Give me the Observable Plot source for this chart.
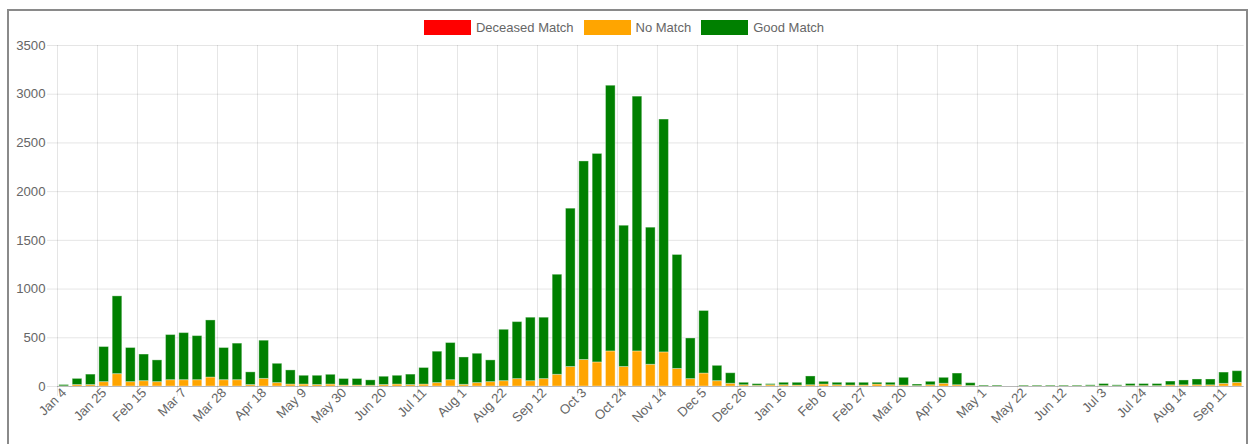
<!DOCTYPE html>
<html>
<head>
<meta charset="utf-8">
<script src="https://cdn.jsdelivr.net/npm/d3@7"></script>
<script src="https://cdn.jsdelivr.net/npm/@observablehq/plot@0.6"></script>
<style>
  html, body { margin: 0; padding: 0; background: #fff; overflow: hidden; }
  body { width: 1249px; height: 444px; position: relative; font-family: "Liberation Sans", Arial, Helvetica, sans-serif; }
  #card { position: absolute; left: 7px; top: 9px; width: 1237px; height: 480px; border: 2px solid #8a8a8a; background: #fff; }
  #legend { height: 23px; padding-top: 5px; padding-right: 7px; display: flex; justify-content: center; align-items: center; font-size: 13px; color: #666; }
  .item { display: flex; align-items: center; margin: 0 5px; }
  .box { width: 47px; height: 15px; margin-right: 5px; box-sizing: border-box; }
  #chart svg { display: block; }
</style>
</head>
<body>
<div id="card">
  <div id="legend"></div>
  <div id="chart"></div>
</div>
<script>
// Weekly categories (x axis)
const dates = [
  "Jan 4","Jan 11","Jan 18","Jan 25","Feb 1","Feb 8","Feb 15","Feb 22","Feb 29","Mar 7",
  "Mar 14","Mar 21","Mar 28","Apr 4","Apr 11","Apr 18","Apr 25","May 2","May 9","May 16",
  "May 23","May 30","Jun 6","Jun 13","Jun 20","Jun 27","Jul 4","Jul 11","Jul 18","Jul 25",
  "Aug 1","Aug 8","Aug 15","Aug 22","Aug 29","Sep 5","Sep 12","Sep 19","Sep 26","Oct 3",
  "Oct 10","Oct 17","Oct 24","Oct 31","Nov 7","Nov 14","Nov 21","Nov 28","Dec 5","Dec 12",
  "Dec 19","Dec 26","Jan 2","Jan 9","Jan 16","Jan 23","Jan 30","Feb 6","Feb 13","Feb 20",
  "Feb 27","Mar 6","Mar 13","Mar 20","Mar 27","Apr 3","Apr 10","Apr 17","Apr 24","May 1",
  "May 8","May 15","May 22","May 29","Jun 5","Jun 12","Jun 19","Jun 26","Jul 3","Jul 10",
  "Jul 17","Jul 24","Jul 31","Aug 7","Aug 14","Aug 21","Aug 28","Sep 11","Sep 18"
];
// Tick labels shown on the x axis
const tickDates = [
  "Jan 4","Jan 25","Feb 15","Mar 7","Mar 28","Apr 18","May 9","May 30","Jun 20","Jul 11",
  "Aug 1","Aug 22","Sep 12","Oct 3","Oct 24","Nov 14","Dec 5","Dec 26","Jan 16","Feb 6",
  "Feb 27","Mar 20","Apr 10","May 1","May 22","Jun 12","Jul 3","Jul 24","Aug 14","Sep 11"
];
// Series values (stacked bottom to top)
const deceasedMatch = [
  0,0,0,0,0,0,0,0,0,0, 0,0,0,0,0,0,0,0,0,0, 0,0,0,0,0,0,0,0,0,0,
  0,0,0,0,0,0,0,0,0,0, 0,0,0,0,0,0,0,0,0,0, 0,0,0,0,0,0,0,0,0,0,
  0,0,0,0,0,0,0,0,0,0, 0,0,0,0,0,0,0,0,0,0, 0,0,0,0,0,0,0,0,0
];
const noMatch = [
  2,15,15,45,127,45,55,45,65,65, 65,92,65,65,15,78,35,20,20,15,
  20,10,10,8,15,20,15,20,35,65, 17,35,45,55,76,55,76,120,200,272,
  247,360,200,360,223,350,180,76,133,55, 28,13,7,13,13,10,13,20,13,10,
  10,20,13,10,4,13,28,13,5,2, 2,0,2,2,2,2,2,2,4,2,
  4,4,4,12,12,12,12,27,37
];
const goodMatch = [
  13,63,107,360,798,350,273,223,463,483, 452,586,330,375,130,392,198,145,90,95,
  100,67,67,55,85,90,107,170,322,381, 281,301,223,527,585,651,630,1027,1625,2038,
  2140,2727,1450,2615,1407,2390,1170,417,642,157, 108,25,17,11,25,28,90,28,25,28,
  28,18,25,79,16,35,61,120,29,8, 8,0,7,7,7,7,7,10,21,10,
  21,21,21,39,50,60,60,116,120
];
const seriesNames = ["Deceased Match", "No Match", "Good Match"];
const seriesColors = ["red", "orange", "green"];
const yTicks = [0, 500, 1000, 1500, 2000, 2500, 3000, 3500];

// Legend (HTML, above the SVG)
const legend = document.getElementById("legend");
seriesNames.forEach((name, k) => {
  const it = document.createElement("div");
  it.className = "item";
  const b = document.createElement("span");
  b.className = "box";
  b.style.background = seriesColors[k];
  const t = document.createElement("span");
  t.textContent = name;
  it.appendChild(b); it.appendChild(t);
  legend.appendChild(it);
});

// Long table for stacking
const seriesArrays = [deceasedMatch, noMatch, goodMatch];
const rows = [];
dates.forEach((d, i) => {
  seriesNames.forEach((s, k) => rows.push({date: d, series: s, value: seriesArrays[k][i]}));
});

const W = 1237, H = 400, mL = 48, mR = 2.4, mT = 6, mB = 53;
const step = (W - mL - mR) / dates.length;

const chart = Plot.plot({
  width: W, height: H,
  marginLeft: mL, marginRight: mR, marginTop: mT, marginBottom: mB,
  style: {fontFamily: '"Liberation Sans", Arial, Helvetica, sans-serif', fontSize: "13.2px", color: "#666", background: "transparent", overflow: "visible"},
  x: {type: "band", domain: dates, paddingInner: 0.28, paddingOuter: 0.14, align: 0.5, round: false},
  y: {domain: [0, 3500]},
  color: {domain: seriesNames, range: seriesColors},
  marks: [
    Plot.ruleY(yTicks, {stroke: "#000", strokeOpacity: 0.1, insetLeft: -10}),
    Plot.ruleX(tickDates, {x: d => d, dx: -step / 2, stroke: "#000", strokeOpacity: 0.1, insetBottom: -10}),
    Plot.barY(rows, {x: "date", y: "value", fill: "series", stroke: "#fff", strokeOpacity: 0.35, strokeWidth: 1}),
    Plot.ruleY([0], {stroke: "#000", strokeOpacity: 0.2}),
    Plot.axisY({ticks: yTicks, tickFormat: d3.format("d"), tickSize: 0, tickPadding: 12, label: null, fill: "#666", fontSize: "13.2px"}),
    Plot.axisX({ticks: tickDates, tickSize: 0, tickPadding: 4, tickRotate: -45, label: null, fill: "#666", fontSize: "13.2px"})
  ]
});
document.getElementById("chart").appendChild(chart);
</script>
</body>
</html>
